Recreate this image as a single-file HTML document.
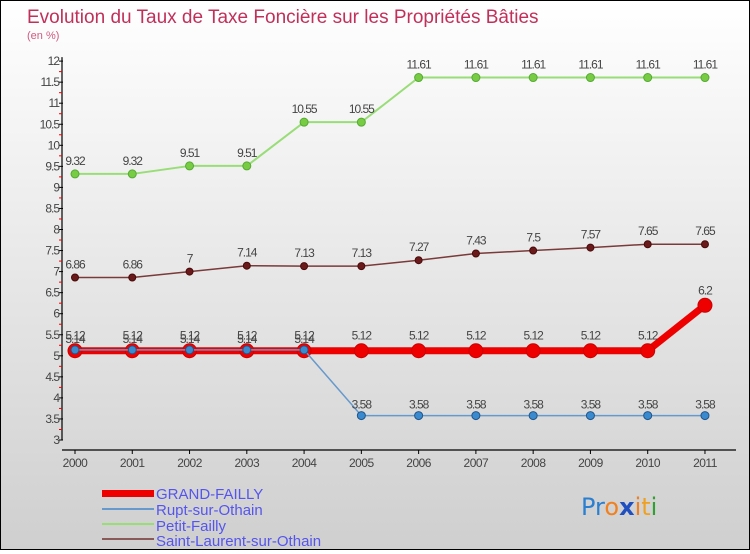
<!DOCTYPE html>
<html><head><meta charset="utf-8"><style>
html,body{margin:0;padding:0}
body{width:750px;height:550px;overflow:hidden;font-family:"Liberation Sans",sans-serif}
#c{position:absolute;left:0;top:0;width:748px;height:548px;border:1px solid #000;background:linear-gradient(#ffffff,#cfcfcf)}
</style></head><body>
<div id="c">
<svg id="svg" width="748" height="548" xmlns="http://www.w3.org/2000/svg">
<text x="26" y="22" font-size="19" fill="#c0305a">Evolution du Taux de Taxe Foncière sur les Propriétés Bâties</text>
<text x="26" y="38" font-size="11" fill="#d05a80">(en %)</text>
<g id="axes"></g><g id="series"></g>
<g>
<rect x="101" y="489" width="52" height="7" fill="#ee0000"/>
<text x="155" y="498" font-size="15" fill="#5555ee">GRAND-FAILLY</text>
<rect x="101" y="507" width="52" height="2" fill="#6699cc"/>
<text x="155" y="514" font-size="15" fill="#5555ee">Rupt-sur-Othain</text>
<rect x="101" y="522" width="52" height="2" fill="#99dd77"/>
<text x="155" y="530" font-size="15" fill="#5555ee">Petit-Failly</text>
<rect x="101" y="537" width="52" height="2" fill="#8a5a5a"/>
<text x="155" y="545" font-size="15" fill="#5555ee">Saint-Laurent-sur-Othain</text>
</g>
<g font-size="24" font-family="DejaVu Sans,sans-serif">
<text x="580" y="514"><tspan fill="#2a7fd0">Pr</tspan><tspan fill="#f08020">o</tspan><tspan fill="#2050c0" font-weight="bold">x</tspan><tspan fill="#f08020">i</tspan><tspan fill="#f0a020">t</tspan><tspan fill="#30a030">i</tspan></text>
</g>
</svg>
</div>
<script>
const years=["2000","2001","2002","2003","2004","2005","2006","2007","2008","2009","2010","2011"];
const yTicks=[3,3.5,4,4.5,5,5.5,6,6.5,7,7.5,8,8.5,9,9.5,10,10.5,11,11.5,12];
const grandFailly=[5.12,5.12,5.12,5.12,5.12,5.12,5.12,5.12,5.12,5.12,5.12,6.2];
const rupt=[5.14,5.14,5.14,5.14,5.14,3.58,3.58,3.58,3.58,3.58,3.58,3.58];
const petitFailly=[9.32,9.32,9.51,9.51,10.55,10.55,11.61,11.61,11.61,11.61,11.61,11.61];
const saintLaurent=[6.86,6.86,7,7.14,7.13,7.13,7.27,7.43,7.5,7.57,7.65,7.65];
const NS="http://www.w3.org/2000/svg";
const X=i=>74+i*57.27, Y=v=>439-(v-3)*42.1;
function mk(tag,attrs,parent){const e=document.createElementNS(NS,tag);for(const k in attrs)e.setAttribute(k,attrs[k]);parent.appendChild(e);return e;}
const ax=document.getElementById('axes');
let e=mk('line',{x1:61,y1:Y(12)-4,x2:61,y2:Y(3),stroke:'#000','stroke-width':1.2},ax);


e=mk('line',{x1:61,y1:449,x2:735,y2:449,stroke:'#000','stroke-width':1.2},ax);


yTicks.forEach(v=>{
 mk('line',{x1:58,y1:Y(v),x2:62,y2:Y(v),stroke:'#000'},ax);
 if(v<12)mk('line',{x1:58,y1:Y(v+0.25),x2:61,y2:Y(v+0.25),stroke:'#e00'},ax);
 const t=mk('text',{x:58,y:Y(v)+4,'font-size':12,fill:'#444','text-anchor':'end','letter-spacing':'-1'},ax);
 t.textContent=String(v);
 
 
});
years.forEach((y,i)=>{
 mk('line',{x1:X(i),y1:449,x2:X(i),y2:453,stroke:'#000'},ax);
 const t=mk('text',{x:X(i),y:466,'font-size':12,fill:'#444','text-anchor':'middle','letter-spacing':'-0.5'},ax);
 t.textContent=y;
 
 
});
const sg=document.getElementById('series');
function series(vals,name,lc,lw,pc,ps,r,sw,labDy){
 const g=mk('g',{},sg);
 
 
 const p=mk('polyline',{points:vals.map((v,i)=>X(i)+','+Y(v)).join(' '),fill:'none',stroke:lc,'stroke-width':lw,'stroke-linejoin':'round'},g);
 
 
 vals.forEach((v,i)=>{
  const c=mk('circle',{cx:X(i),cy:Y(v),r:r,fill:pc,stroke:ps,'stroke-width':sw},g);
  
  
  const t=mk('text',{x:X(i),y:Y(v)-labDy,'font-size':12,fill:'#444','text-anchor':'middle','letter-spacing':'-1'},g);
  t.textContent=String(v);
  
  
 });
}
series(petitFailly,'petit-failly','#99dd77',2,'#77cc44','#55aa33',4,1,9);
series(saintLaurent,'saint-laurent','#7a3a3a',1.5,'#6a1a1a','#4a0a0a',3.5,1,9);
series(grandFailly,'grand-failly','#ee0000',7,'#ee0000','#cc0000',7,1,11);
series(rupt,'rupt-sur-othain','#6699cc',1.5,'#3a8ad0','#225588',4,1,7);
</script>
</body></html>
